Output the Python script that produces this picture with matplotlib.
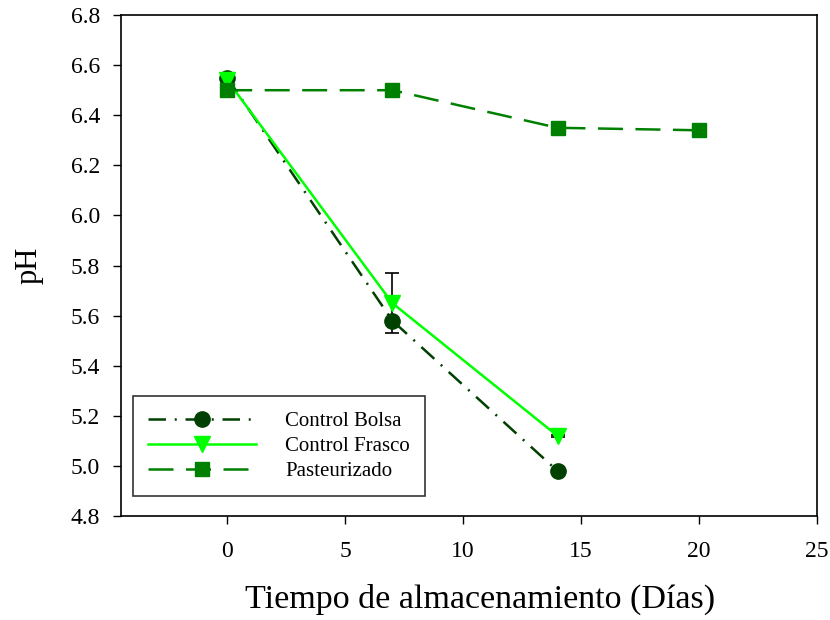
import matplotlib
matplotlib.use("Agg")
import matplotlib.pyplot as plt

plt.rcParams['font.family'] = ['Liberation Serif', 'DejaVu Serif']

days_bolsa = [0, 7, 14]
ph_bolsa = [6.55, 5.58, 4.98]
days_frasco = [0, 7, 14]
ph_frasco = [6.54, 5.65, 5.12]
err_frasco = [0.0, 0.12, 0.005]
days_past = [0, 7, 14, 20]
ph_past = [6.50, 6.50, 6.35, 6.34]

xticks = [0, 5, 10, 15, 20, 25]
yticks = [4.8, 5.0, 5.2, 5.4, 5.6, 5.8, 6.0, 6.2, 6.4, 6.6, 6.8]

fig = plt.figure(figsize=(8.3, 6.2), dpi=100)
ax = fig.add_axes([0.1458, 0.1677, 0.8386, 0.808])

ax.plot(days_bolsa, ph_bolsa, color='#004000', lw=1.8, dashes=(7, 3.5, 0.8, 3.5),
        marker='o', ms=11, label='Control Bolsa', zorder=3)
ax.errorbar(days_frasco, ph_frasco, yerr=err_frasco, fmt='none', ecolor='black',
            elinewidth=1.2, capsize=5, capthick=1.2, zorder=2)
ax.plot(days_frasco, ph_frasco, color='#00ff00', lw=1.8,
        marker='v', ms=11, label='Control Frasco', zorder=4)
ax.plot(days_past, ph_past, color='#008000', lw=1.8, dashes=(10, 5),
        marker='s', ms=10, label='Pasteurizado', zorder=5)

ax.set_xlim(-4.5, 25)
ax.set_ylim(4.8, 6.8)
ax.set_xticks(xticks)
ax.set_yticks(yticks)
ax.set_yticklabels([f"{v:.1f}" for v in yticks])
ax.tick_params(axis='both', direction='out', length=6, width=1, labelsize=17,
               top=False, right=False)
ax.tick_params(axis='x', pad=12)
ax.tick_params(axis='y', pad=9)
for sp in ax.spines.values():
    sp.set_linewidth(1.2)

ax.set_xlabel('Tiempo de almacenamiento (Días)', fontsize=24.5, labelpad=14)
ax.xaxis.set_label_coords(0.516, -0.135)
ax.set_ylabel('pH', fontsize=22, labelpad=20)

leg = ax.legend(loc='lower left', bbox_to_anchor=(0.017, 0.04), fontsize=15,
                frameon=True, fancybox=False, edgecolor='black', handlelength=5.2,
                borderpad=0.72, labelspacing=0.26, handletextpad=1.4, borderaxespad=0)
leg.get_frame().set_linewidth(1.2)

fig.savefig('out.png', dpi=100)
